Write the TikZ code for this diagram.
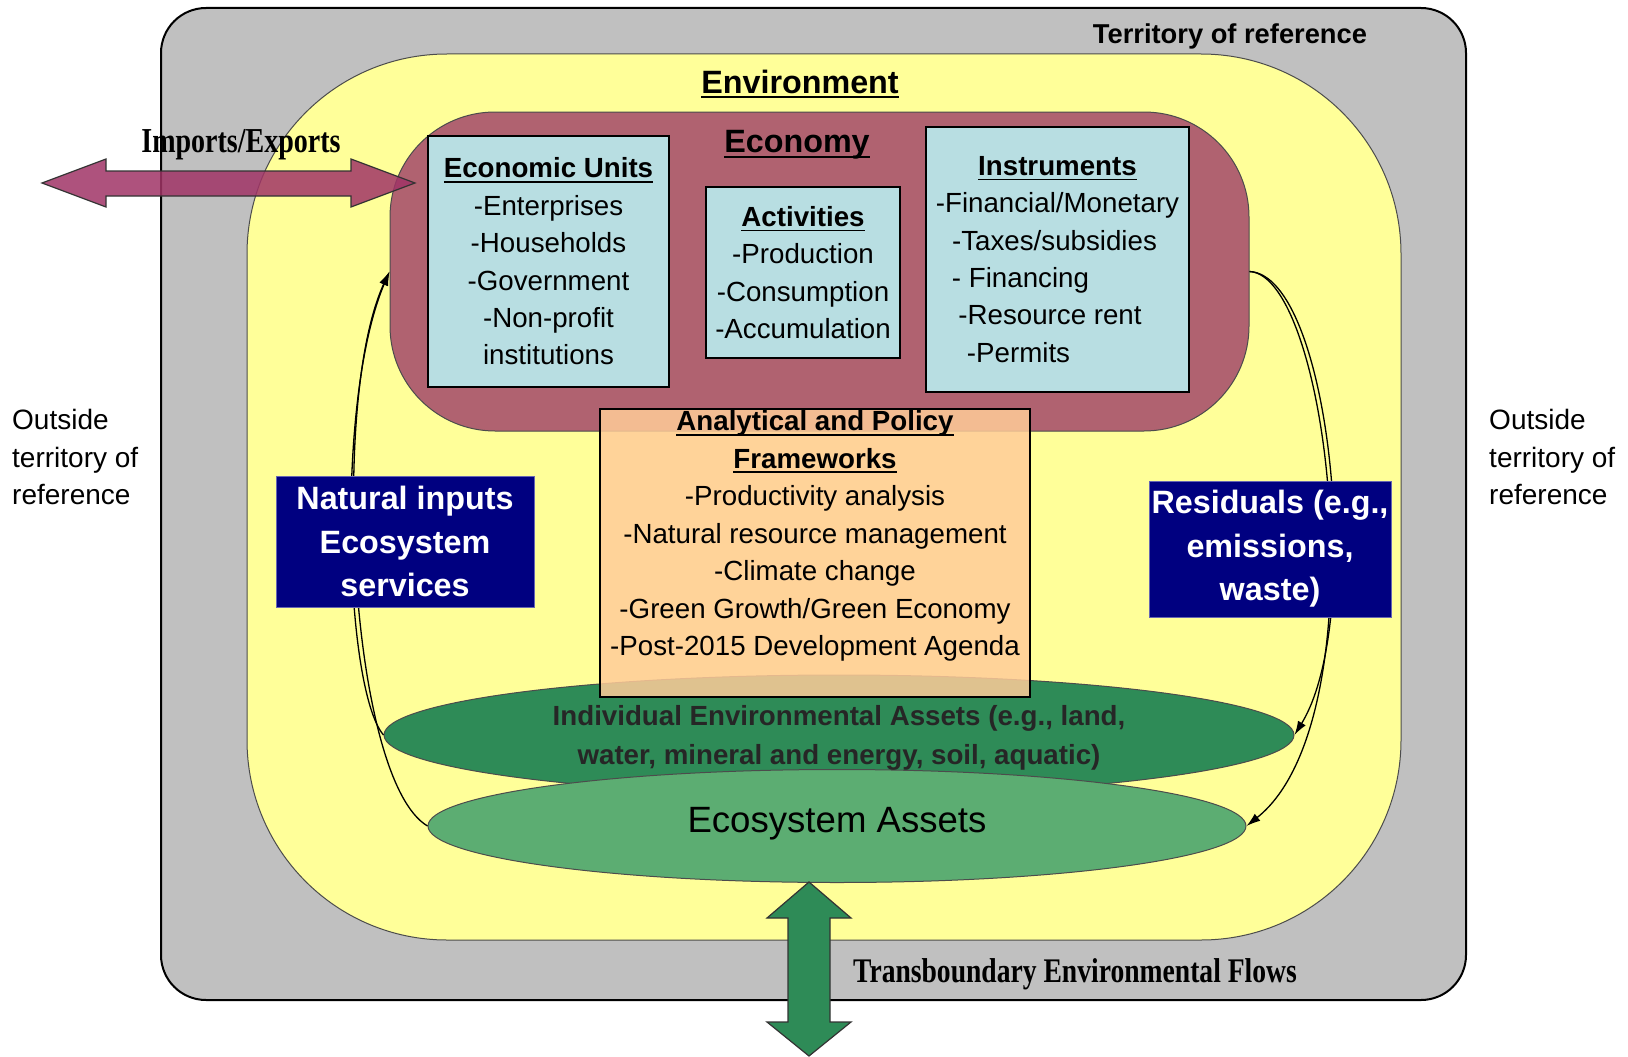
\documentclass[tikz,border=0pt]{standalone}
\usepackage{fontspec}
\setmainfont{Liberation Sans}
\newfontfamily\serifcond[FakeStretch=0.8]{Liberation Serif}
\usetikzlibrary{shapes.geometric,arrows.meta}

\newsavebox\headbox
\newcommand{\ulhead}[1]{\sbox\headbox{#1}\rlap{\rule[-5pt]{\wd\headbox}{1.8pt}}\usebox\headbox}

\definecolor{territorygray}{RGB}{192,192,192}
\definecolor{envyellow}{RGB}{255,255,153}
\definecolor{econred}{RGB}{176,98,112}
\definecolor{unitblue}{RGB}{184,222,226}
\definecolor{frameorange}{RGB}{255,204,153}
\definecolor{navybox}{RGB}{0,0,128}
\definecolor{assetgreen}{RGB}{46,139,87}
\definecolor{ecogreen}{RGB}{92,173,114}
\definecolor{tradepurple}{RGB}{160,52,102}

\begin{document}
\begin{tikzpicture}[x=1pt,y=-1pt,
  every node/.style={inner sep=0pt},
  listbox/.style={draw=black,line width=1.5pt,fill=unitblue,align=center,
    font=\fontsize{27.7}{37.4}\selectfont},
  navytext/.style={draw=navybox!60,fill=navybox,text=white,align=center,
    font=\bfseries\fontsize{32.3}{43.6}\selectfont},
  flow/.style={line width=1.3pt,-{Latex[length=14pt,width=9pt]}},
  bigarrow/.style={draw=black!80,line width=1.2pt}]

    \useasboundingbox (0,0) rectangle (1628,1057);

    % Territory of reference
    \draw[fill=territorygray,line width=2pt,rounded corners=45pt] (161,8) rectangle (1466,1000);
    \node[font=\bfseries\fontsize{27.3}{33}\selectfont] (territory) at (1230,36) {Territory of reference};

    % Environment
    \draw[fill=envyellow,draw=black!70,line width=1pt,rounded corners=200pt] (247,54) rectangle (1401,940);
    \node[font=\bfseries\fontsize{32.3}{38}\selectfont] (environment) at (800,84) {\ulhead{Environment}};

    % Economy
    \node[draw=black!70,line width=1pt,fill=econred,rounded corners=105pt,
      minimum width=859pt,minimum height=319pt] (economy) at (819.5,271.5) {};
    \node[font=\bfseries\fontsize{32.3}{38}\selectfont] (econlabel) at (797,145) {\ulhead{Economy}};

    % Economic units, activities, instruments
    \node[listbox,minimum width=241pt,minimum height=251pt] (units) at (548.5,261.5)
      {\ulhead{\textbf{Economic Units}}\\-Enterprises\\-Households\\-Government\\-Non-profit\\institutions};
    \node[listbox,minimum width=194pt,minimum height=171pt] (activities) at (803,272.5)
      {\ulhead{\textbf{Activities}}\\-Production\\-Consumption\\-Accumulation};
    \node[listbox,minimum width=263pt,minimum height=265pt] (instruments) at (1057.5,259.5)
      {\ulhead{\textbf{Instruments}}\\-Financial/Monetary\\-Taxes/subsidies\kern6pt\\- Financing\kern74pt\\-Resource rent\kern15pt\\-Permits\kern78pt};

    % Assets
    \node[ellipse,draw=black!70,line width=1pt,fill=assetgreen,minimum width=910pt,minimum height=120pt] (indiv) at (839,735) {};
    \node[ellipse,draw=black!70,line width=1pt,fill=ecogreen,minimum width=818pt,minimum height=113pt] (ecoassets) at (837,826) {};
    \node[align=center,font=\bfseries\fontsize{27.7}{38.4}\selectfont,text=black!85] (indivtext) at (839,738)
      {Individual Environmental Assets (e.g., land,\\water, mineral and energy, soil, aquatic)};
    \node[font=\fontsize{36.6}{42}\selectfont] (ecotext) at (837,824) {Ecosystem Assets};

    % Analytical and policy frameworks
    \node[draw=black,line width=1.5pt,fill=frameorange,fill opacity=0.85,
      minimum width=430pt,minimum height=288pt] (frames) at (815,553) {};
    \node[align=center,font=\fontsize{27.7}{37.5}\selectfont] (framestext) at ([yshift=17pt]frames.center)
      {\ulhead{\textbf{Analytical and Policy}}\\\ulhead{\textbf{Frameworks}}\\-Productivity analysis\\-Natural resource management\\-Climate change\\-Green Growth/Green Economy\\-Post-2015 Development Agenda};

    % Flows between environment and economy
    \draw[flow] (indiv.west) .. controls (345,690) and (335,400) .. (economy.west);
    \draw[flow] (ecoassets.west) .. controls (350,780) and (330,400) .. (economy.west);
    \draw[flow] (economy.east) .. controls (1330,275) and (1365,620) .. (indiv.east);
    \draw[flow] (economy.east) .. controls (1330,275) and (1380,720) .. (ecoassets.east);

    \node[navytext,minimum width=258pt,minimum height=131pt] (natural) at (405,541.5)
      {Natural inputs\\Ecosystem\\services};
    \node[navytext,minimum width=242pt,minimum height=136pt] (residuals) at (1270,549)
      {Residuals (e.g.,\\emissions,\\waste)};

    % Imports/Exports
    \draw[bigarrow,fill=tradepurple,fill opacity=0.85]
      (42,183) -- (106,159) -- (106,171) -- (351,171) -- (351,159) -- (415,183)
      -- (351,207) -- (351,196) -- (106,196) -- (106,207) -- cycle;
    \node[anchor=base,font=\serifcond\bfseries\fontsize{35}{40}\selectfont] (imports) at (241,152) {Imports/Exports};

    % Transboundary flows
    \draw[bigarrow,fill=assetgreen]
      (809,882) -- (851,918) -- (830,918) -- (830,1022) -- (851,1022) -- (809,1056)
      -- (767,1022) -- (788,1022) -- (788,918) -- (767,918) -- cycle;
    \node[anchor=base,font=\serifcond\bfseries\fontsize{34.5}{38}\selectfont] (transboundary) at (1075,982) {Transboundary Environmental Flows};

    % Outside territory
    \node[anchor=west,align=left,font=\fontsize{28}{37.4}\selectfont] (outleft) at (12,457)
      {Outside\\territory of\\reference};
    \node[anchor=west,align=left,font=\fontsize{28}{37.4}\selectfont] (outright) at (1489,457)
      {Outside\\territory of\\reference};
\end{tikzpicture}
\end{document}
